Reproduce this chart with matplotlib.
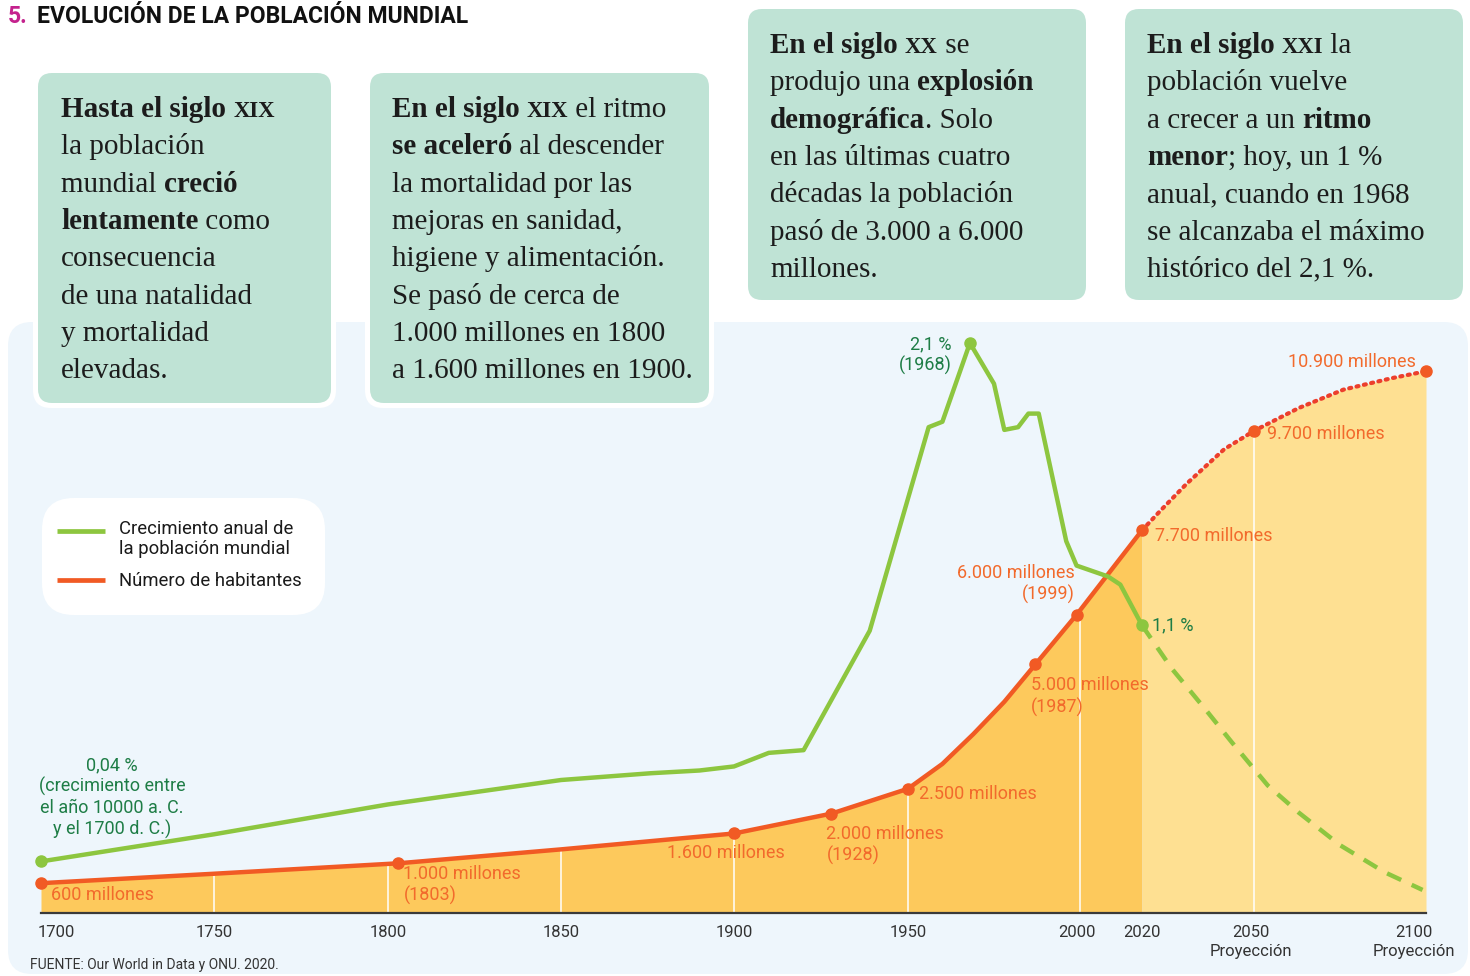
import numpy as np
import matplotlib
matplotlib.use("Agg")
import matplotlib.pyplot as plt
from matplotlib.patches import FancyBboxPatch

# población mundial (millones de habitantes)
pop_years = [1700, 1750, 1803, 1850, 1900, 1928, 1950, 1960, 1969, 1978, 1987, 1999, 2020]
pop_values = [600, 790, 1000, 1280, 1600, 2000, 2500, 3000, 3600, 4250, 5000, 6000, 7700]
proj_years = [2020, 2025, 2032, 2042, 2050, 2063, 2076, 2090, 2100]
proj_values = [7700, 8100, 8640, 9330, 9700, 10160, 10530, 10760, 10900]
pop_marked = [1700, 1803, 1900, 1928, 1950, 1987, 1999, 2020, 2050, 2100]
pop_labels = ["600 millones", "1.000 millones\n(1803)", "1.600 millones",
              "2.000 millones\n(1928)", "2.500 millones", "5.000 millones\n(1987)",
              "6.000 millones\n(1999)", "7.700 millones", "9.700 millones",
              "10.900 millones"]

# crecimiento anual (%), tal como se dibuja en el gráfico
growth_years = [1700, 1750, 1800, 1850, 1876, 1890, 1900, 1910, 1920, 1939, 1956, 1960,
                1968, 1975, 1978, 1982, 1985, 1988, 1996, 1999, 2009, 2013, 2020]
growth_values = [0.19, 0.29, 0.40, 0.49, 0.515, 0.525, 0.54, 0.59, 0.60, 1.04, 1.79, 1.81,
                 2.10, 1.95, 1.78, 1.79, 1.84, 1.84, 1.37, 1.28, 1.24, 1.21, 1.06]
growth_proj_years = [2020, 2028, 2037, 2044, 2054, 2063, 2075, 2088, 2099]
growth_proj_values = [1.06, 0.90, 0.75, 0.63, 0.47, 0.37, 0.25, 0.15, 0.085]
growth_marked = [1700, 1968, 2020]
growth_labels = ["0,04 %\n(crecimiento entre\nel año 10000 a. C.\ny el 1700 d. C.)",
                 "2,1 %\n(1968)", "1,1 %"]

tick_years = [1700, 1750, 1800, 1850, 1900, 1950, 2000, 2020, 2050, 2100]
tick_labels = ["1700", "1750", "1800", "1850", "1900", "1950", "2000", "2020",
               "2050\nProyección", "2100\nProyección"]

SERIF = "Liberation Serif"
SANS = "Roboto"
ORANGE = "#F15A24"
GREEN = "#8DC63F"
DKGREEN = "#1E7D46"
LBL_OR = "#F26A2C"

W, H = 1470, 976
fig = plt.figure(figsize=(W / 100, H / 100), dpi=100)
fig.patch.set_facecolor("white")

# capa de fondo en coordenadas de pixel
bg = fig.add_axes([0, 0, 1, 1], zorder=0)
bg.set_xlim(0, W)
bg.set_ylim(H, 0)
bg.axis("off")

bg.add_patch(FancyBboxPatch((8, 322), 1460, 652, boxstyle="round,pad=0,rounding_size=24",
                            fc="#EEF6FC", ec="none"))

boxes = [(38, 73, 293, 330), (370, 73, 339, 330), (748, 9, 338, 291), (1125, 9, 338, 291)]
for x0, y0, w, h in boxes:
    bg.add_patch(FancyBboxPatch((x0 - 5, y0 - 5), w + 10, h + 10,
                                boxstyle="round,pad=0,rounding_size=18", fc="white", ec="none"))
    bg.add_patch(FancyBboxPatch((x0, y0), w, h, boxstyle="round,pad=0,rounding_size=14",
                                fc="#BFE3D5", ec="none"))

renderer = fig.canvas.get_renderer()


def text_width(s, **kw):
    t = fig.text(0, 0, "|" + s + "|", **kw)
    t2 = fig.text(0, 0, "||", **kw)
    w = t.get_window_extent(renderer).width - t2.get_window_extent(renderer).width
    t.remove()
    t2.remove()
    return w


def rich_lines(x, y0, lines, step=37.3, size=21):
    for i, runs in enumerate(lines):
        cx = x
        y = y0 + i * step
        for txt, style in runs:
            sc = "s" in style
            kw = dict(fontsize=size * 0.78 if sc else size, family=SERIF,
                      fontweight="bold" if "b" in style else "normal")
            s = txt.upper() if sc else txt
            bg.text(cx, y, s, va="baseline", ha="left", color="#1c1c1c", **kw)
            cx += text_width(s, **kw)


rich_lines(61, 117, [
    [("Hasta el siglo ", "b"), ("xix", "bs")],
    [("la población", "")],
    [("mundial ", ""), ("creció", "b")],
    [("lentamente", "b"), (" como", "")],
    [("consecuencia", "")],
    [("de una natalidad", "")],
    [("y mortalidad", "")],
    [("elevadas.", "")],
])
rich_lines(392, 117, [
    [("En el siglo ", "b"), ("xix", "bs"), (" el ritmo", "")],
    [("se aceleró", "b"), (" al descender", "")],
    [("la mortalidad por las", "")],
    [("mejoras en sanidad,", "")],
    [("higiene y alimentación.", "")],
    [("Se pasó de cerca de", "")],
    [("1.000 millones en 1800", "")],
    [("a 1.600 millones en 1900.", "")],
])
rich_lines(770, 53, [
    [("En el siglo ", "b"), ("xx", "bs"), (" se", "")],
    [("produjo una ", ""), ("explosión", "b")],
    [("demográfica", "b"), (". Solo", "")],
    [("en las últimas cuatro", "")],
    [("décadas la población", "")],
    [("pasó de 3.000 a 6.000", "")],
    [("millones.", "")],
])
rich_lines(1147, 53, [
    [("En el siglo ", "b"), ("xxi", "bs"), (" la", "")],
    [("población vuelve", "")],
    [("a crecer a un ", ""), ("ritmo", "b")],
    [("menor", "b"), ("; hoy, un 1 %", "")],
    [("anual, cuando en 1968", "")],
    [("se alcanzaba el máximo", "")],
    [("histórico del 2,1 %.", "")],
])

# título
bg.text(8, 23, "5.", family=SANS, fontweight="bold", fontsize=16.5, color="#C4228D",
        va="baseline")
bg.text(37, 23, "EVOLUCIÓN DE LA POBLACIÓN MUNDIAL", family=SANS, fontweight="bold",
        fontsize=16.5, color="#111111", va="baseline")

# leyenda
bg.add_patch(FancyBboxPatch((42, 498), 283, 117, boxstyle="round,pad=0,rounding_size=32",
                            fc="white", ec="none"))
bg.plot([57, 105], [531, 531], color=GREEN, lw=3.4, solid_capstyle="butt")
bg.plot([57, 105], [580, 580], color=ORANGE, lw=3.4, solid_capstyle="butt")
bg.text(119, 539, "Crecimiento anual de\nla población mundial", family=SANS, fontsize=13.3,
        color="#1a1a1a", va="center", linespacing=1.1)
bg.text(119, 581, "Número de habitantes", family=SANS, fontsize=13.3, color="#1a1a1a",
        va="center")

bg.text(30, 965, "FUENTE: Our World in Data y ONU. 2020.", family=SANS, fontsize=10,
        color="#333333", va="center")

# gráfico
tick_px = [41, 214, 388, 561, 734, 908, 1080, 1142, 1254, 1426]


def fwd(x):
    return np.interp(x, tick_years, tick_px)


def inv(p):
    return np.interp(p, tick_px, tick_years)


ax = fig.add_axes([41 / W, (H - 913) / H, (1426 - 41) / W, (913 - 330) / H], zorder=1)
ax.set_xscale("function", functions=(fwd, inv))
ax.set_xlim(1700, 2100)
ax.set_ylim(0, 11730)
ax.patch.set_visible(False)
for s in ["top", "right", "left"]:
    ax.spines[s].set_visible(False)
ax.spines["bottom"].set_color("#3a3a3a")
ax.spines["bottom"].set_linewidth(1.6)
ax.set_yticks([])
ax.set_xticks([])
ax.minorticks_off()

ax.fill_between(pop_years, pop_values, color="#FDC95C", lw=0, zorder=1)
ax.fill_between(proj_years, proj_values, color="#FEE092", lw=0, zorder=1)
all_years = pop_years + proj_years[1:]
all_vals = pop_values + proj_values[1:]
for yr in [1750, 1800, 1850, 1900, 1950, 2000, 2050]:
    ax.vlines(yr, 0, np.interp(yr, all_years, all_vals), color="white", lw=1.1, zorder=2)

ax.plot(pop_years, pop_values, color=ORANGE, lw=3.2, zorder=3, solid_capstyle="round",
        clip_on=False)
ax.plot(proj_years, proj_values, color="#EC3F2C", lw=3, ls=(0, (0.5, 1.3)),
        dash_capstyle="round", zorder=3, clip_on=False)
mk_vals = np.interp(pop_marked, all_years, all_vals)
ax.plot(pop_marked, mk_vals, "o", color=ORANGE, ms=8, zorder=4, clip_on=False)

pop_offsets = [(10, -12, "left"), (5, -22, "left"), (-8, -20, "center"), (-5, -31, "left"),
               (11, -5, "left"), (-4, -32, "left"), (-2, 31, "right"), (13, -6, "left"),
               (13, -3, "left"), (-10, 9, "right")]
for yr, v, lab, (dx, dy, ha) in zip(pop_marked, mk_vals, pop_labels, pop_offsets):
    ax.annotate(lab, (yr, v), xytext=(dx, dy), textcoords="offset pixels", ha=ha,
                va="center", family=SANS, fontsize=13, color=LBL_OR, linespacing=1.2,
                zorder=5)

for yr, lab in zip(tick_years, tick_labels):
    dx, ha = 0, "center"
    if yr == 1700:
        dx, ha = -3, "left"
    elif yr == 2100:
        dx = -12
    elif yr in (2000, 2050):
        dx = -3
    ax.annotate(lab, (yr, 0), xycoords=("data", "axes fraction"), xytext=(dx, -12),
                textcoords="offset pixels", ha=ha, va="top", family=SANS, fontsize=12,
                color="#333333", linespacing=1.35, annotation_clip=False)

ax2 = ax.twinx()
ax2.set_ylim(0, 2.148)
ax2.axis("off")
ax2.plot(growth_years, growth_values, color=GREEN, lw=3.2, zorder=3,
         solid_joinstyle="round", solid_capstyle="round", clip_on=False)
ax2.plot(growth_proj_years, growth_proj_values, color=GREEN, lw=3.2, ls=(0, (3.5, 2.6)),
         zorder=3)
g_vals = np.interp(growth_marked, growth_years, growth_values)
ax2.plot(growth_marked, g_vals, "o", color=GREEN, ms=8, zorder=4, clip_on=False)
g_offsets = [(71, 64, "center"), (-18, -12, "right"), (10, 0, "left")]
for yr, v, lab, (dx, dy, ha) in zip(growth_marked, g_vals, growth_labels, g_offsets):
    ax2.annotate(lab, (yr, v), xytext=(dx, dy), textcoords="offset pixels", ha=ha,
                 va="center", family=SANS, fontsize=13, color=DKGREEN, linespacing=1.2,
                 zorder=5)

fig.savefig("out.png", dpi=100)
